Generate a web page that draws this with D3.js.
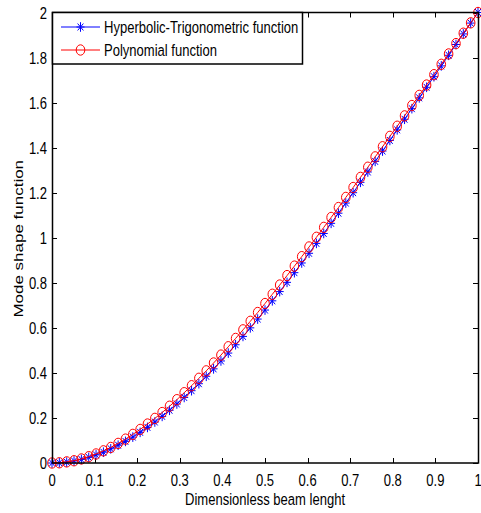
<!DOCTYPE html>
<html>
<head>
<meta charset="utf-8">
<script src="https://cdn.jsdelivr.net/npm/d3@7"></script>
<style>
  body { margin: 0; background: #fff; }
  text { font-family: "Liberation Sans", Arial, sans-serif; fill: #000; }
</style>
</head>
<body>
<div id="chart"></div>
<script>
// Dimensionless beam length (sample points)
const xs = [0, 0.0172, 0.0345, 0.0517, 0.0690, 0.0862, 0.1034, 0.1207, 0.1379, 0.1552,
  0.1724, 0.1897, 0.2069, 0.2241, 0.2414, 0.2586, 0.2759, 0.2931, 0.3103, 0.3276,
  0.3448, 0.3621, 0.3793, 0.3966, 0.4138, 0.4310, 0.4483, 0.4655, 0.4828, 0.5,
  0.5172, 0.5345, 0.5517, 0.5690, 0.5862, 0.6034, 0.6207, 0.6379, 0.6552, 0.6724,
  0.6897, 0.7069, 0.7241, 0.7414, 0.7586, 0.7759, 0.7931, 0.8103, 0.8276, 0.8448,
  0.8621, 0.8793, 0.8966, 0.9138, 0.9310, 0.9483, 0.9655, 0.9828, 1];

// Hyperbolic-Trigonometric function
const hypValues = [0, 0.001, 0.004, 0.009, 0.016, 0.025, 0.036, 0.048, 0.063, 0.079,
  0.096, 0.115, 0.136, 0.158, 0.182, 0.207, 0.234, 0.262, 0.291, 0.321,
  0.352, 0.385, 0.418, 0.453, 0.488, 0.525, 0.562, 0.600, 0.639, 0.679,
  0.720, 0.761, 0.802, 0.845, 0.888, 0.931, 0.975, 1.019, 1.064, 1.109,
  1.154, 1.200, 1.246, 1.292, 1.339, 1.385, 1.432, 1.479, 1.526, 1.573,
  1.621, 1.668, 1.715, 1.763, 1.810, 1.858, 1.905, 1.953, 2.000];

// Polynomial function
const polyValues = [0, 0.001, 0.005, 0.010, 0.018, 0.028, 0.040, 0.054, 0.069, 0.087,
  0.106, 0.127, 0.149, 0.173, 0.198, 0.224, 0.252, 0.281, 0.312, 0.343,
  0.376, 0.409, 0.444, 0.479, 0.516, 0.553, 0.591, 0.629, 0.668, 0.708,
  0.749, 0.790, 0.832, 0.874, 0.916, 0.959, 1.002, 1.046, 1.090, 1.134,
  1.179, 1.223, 1.268, 1.313, 1.359, 1.404, 1.450, 1.495, 1.541, 1.587,
  1.632, 1.678, 1.724, 1.770, 1.816, 1.862, 1.908, 1.954, 2.000];

const xTicks = [0, 0.1, 0.2, 0.3, 0.4, 0.5, 0.6, 0.7, 0.8, 0.9, 1];
const yTicks = [0, 0.2, 0.4, 0.6, 0.8, 1, 1.2, 1.4, 1.6, 1.8, 2];
const seriesNames = ["Hyperbolic-Trigonometric function", "Polynomial function"];

const W = 481, H = 513;
const plot = { left: 52, right: 478, top: 12.5, bottom: 463 };
const sx = 0.79; // the reference figure is squeezed horizontally
const fs = 16.5;

const svg = d3.select("#chart")
  .append("svg")
  .attr("width", W)
  .attr("height", H);

const x = d3.scaleLinear().domain([0, 1]).range([plot.left, plot.right]);
const y = d3.scaleLinear().domain([0, 2]).range([plot.bottom, plot.top]);

function label(g, tx, ty, str, anchor) {
  return g.append("text")
    .attr("transform", `translate(${tx},${ty}) scale(${sx},1)`)
    .attr("text-anchor", anchor)
    .attr("font-size", fs + "px")
    .text(str);
}

// ticks (inside, on all four sides, like a MATLAB box)
const tickLen = 5;
const ticks = svg.append("g").attr("stroke", "#000").attr("stroke-width", 1);
xTicks.forEach(t => {
  const px = Math.round(x(t)) + 0.5;
  ticks.append("line").attr("x1", px).attr("x2", px)
    .attr("y1", plot.bottom).attr("y2", plot.bottom - tickLen);
  ticks.append("line").attr("x1", px).attr("x2", px)
    .attr("y1", plot.top).attr("y2", plot.top + tickLen);
  label(svg, x(t), plot.bottom + 23, d3.format("~g")(t), "middle");
});
yTicks.forEach(t => {
  const py = Math.round(y(t)) + 0.5;
  ticks.append("line").attr("y1", py).attr("y2", py)
    .attr("x1", plot.left).attr("x2", plot.left + tickLen);
  ticks.append("line").attr("y1", py).attr("y2", py)
    .attr("x1", plot.right).attr("x2", plot.right - tickLen);
  label(svg, plot.left - 5, y(t) + 6, d3.format("~g")(t), "end");
});

// data
const hyp = xs.map((v, i) => ({ x: v, y: hypValues[i] }));
const poly = xs.map((v, i) => ({ x: v, y: polyValues[i] }));

const line = d3.line().x(d => x(d.x)).y(d => y(d.y));

function star(g, cx, cy) {
  const rx = 4, ry = 4.8, dx = rx * 0.72, dy = ry * 0.72;
  g.append("path")
    .attr("d", `M${cx - rx},${cy}H${cx + rx}M${cx},${cy - ry}V${cy + ry}` +
      `M${cx - dx},${cy - dy}L${cx + dx},${cy + dy}M${cx - dx},${cy + dy}L${cx + dx},${cy - dy}`)
    .attr("stroke", "#0000ff")
    .attr("stroke-width", 1)
    .attr("fill", "none");
}

const gHyp = svg.append("g");
gHyp.append("path").datum(hyp)
  .attr("d", line)
  .attr("fill", "none")
  .attr("stroke", "#0000ff")
  .attr("stroke-width", 1);
hyp.forEach(d => star(gHyp, x(d.x), y(d.y)));

const gPoly = svg.append("g");
gPoly.append("path").datum(poly)
  .attr("d", line)
  .attr("fill", "none")
  .attr("stroke", "#ff0000")
  .attr("stroke-width", 1);
gPoly.selectAll("ellipse")
  .data(poly)
  .join("ellipse")
  .attr("cx", d => x(d.x))
  .attr("cy", d => y(d.y))
  .attr("rx", 4.3)
  .attr("ry", 5.2)
  .attr("fill", "none")
  .attr("stroke", "#ff0000")
  .attr("stroke-width", 1);

// axes box
svg.append("rect")
  .attr("x", plot.left + 0.5)
  .attr("y", plot.top)
  .attr("width", plot.right - plot.left)
  .attr("height", plot.bottom - plot.top)
  .attr("fill", "none")
  .attr("stroke", "#000")
  .attr("stroke-width", 1.5);

// legend
const lg = svg.append("g");
lg.append("rect")
  .attr("x", plot.left + 0.5)
  .attr("y", plot.top)
  .attr("width", 250)
  .attr("height", 51.5)
  .attr("fill", "#fff")
  .attr("stroke", "#000")
  .attr("stroke-width", 1.5);
const legRows = [27, 50];
lg.append("line").attr("x1", 61).attr("x2", 100)
  .attr("y1", legRows[0]).attr("y2", legRows[0])
  .attr("stroke", "#0000ff").attr("stroke-width", 1);
star(lg, 80.5, legRows[0]);
lg.append("line").attr("x1", 61).attr("x2", 100)
  .attr("y1", legRows[1]).attr("y2", legRows[1])
  .attr("stroke", "#ff0000").attr("stroke-width", 1);
lg.append("ellipse").attr("cx", 80.5).attr("cy", legRows[1]).attr("rx", 4.3).attr("ry", 5.2)
  .attr("fill", "none").attr("stroke", "#ff0000").attr("stroke-width", 1);
seriesNames.forEach((name, i) => {
  label(lg, 104, legRows[i] + 6, name, "start");
});

// axis titles
label(svg, (plot.left + plot.right) / 2, 505, "Dimensionless beam lenght", "middle");
svg.append("text")
  .attr("transform", `translate(23,${(plot.top + plot.bottom) / 2 + 1}) rotate(-90) scale(1,${sx})`)
  .attr("text-anchor", "middle")
  .attr("font-size", "17px")
  .text("Mode shape function");
</script>
</body>
</html>
